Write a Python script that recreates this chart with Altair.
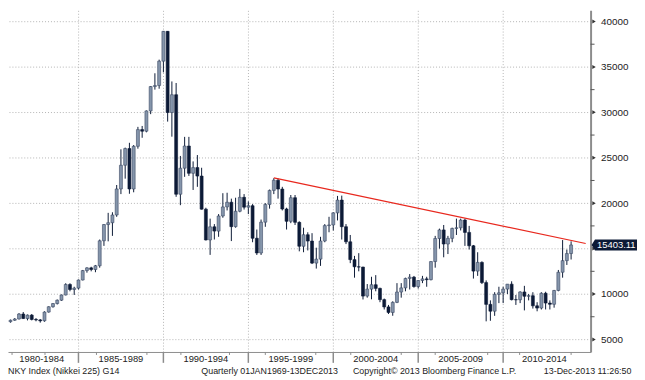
import altair as alt
import pandas as pd

# ---------------- data (quarterly OHLC, NKY Index) ----------------
first_year, first_quarter = 1980, 3

open_ = [
    6930, 6950,
    7116, 7250, 7800, 7300,
    7681, 7200, 7150, 7050,
    8016, 8600, 8950, 9320,
    9893, 11050, 10500, 10650,
    11542, 12580, 12880, 12700,
    13113, 15860, 17650, 17850,
    18700, 21566, 24176, 26011,
    21564, 26260, 28100, 27924,
    30159, 32839, 32949, 35636,
    38916, 29980, 31940, 20984,
    23849, 26292, 23290, 23916,
    22984, 19346, 15951, 17399,
    16925, 18591, 19590, 20106,
    17417, 19112, 20644, 19564,
    19723, 16140, 14517, 17913,
    19868, 21407, 22530, 21556,
    19361, 18003, 20605, 17888,
    15259, 16527, 15830, 13406,
    13842, 15837, 17530, 17605,
    18934, 20337, 17411, 15747,
    13786, 12999, 12969, 9775,
    10543, 11025, 10622, 9383,
    8579, 7973, 9083, 10219,
    10677, 11715, 11859, 10824,
    11489, 11668, 11584, 13574,
    16111, 17060, 15505, 16128,
    17226, 17288, 18138, 16786,
    15308, 12526, 13481, 11260,
    8860, 8110, 9958, 10133,
    10546, 11090, 9383, 9369,
    10229, 9755, 9816, 8700,
    8455, 10084, 9007, 8870,
    10395, 12398, 13677, 14456,
]
high_ = [
    7150, 7190,
    7350, 7900, 8019, 7750,
    7800, 7350, 7250, 8100,
    8650, 9000, 9400, 9950,
    11190, 11190, 10800, 11600,
    12650, 12950, 13000, 13200,
    16000, 17700, 18936, 19000,
    22000, 25929, 26118, 26646,
    26400, 28400, 28500, 30211,
    32900, 34300, 35800, 38957,
    38950, 33400, 33230, 25200,
    27300, 27300, 24600, 25300,
    23900, 19500, 18300, 17700,
    18800, 21100, 21148, 20500,
    20600, 21573, 21000, 20200,
    19900, 17100, 18200, 20000,
    21500, 22750, 22700, 21800,
    19500, 20900, 20900, 18000,
    17300, 16800, 16700, 15100,
    16300, 17700, 18500, 19000,
    20800, 20833, 17700, 16500,
    14200, 14500, 13000, 11100,
    11900, 12081, 10700, 9500,
    8800, 9200, 11200, 11200,
    11800, 12195, 11990, 11500,
    12000, 11900, 13600, 16400,
    17200, 17600, 16400, 17300,
    18300, 18300, 18297, 17500,
    15400, 14600, 13600, 11500,
    9300, 10200, 10800, 10800,
    11100, 11400, 9900, 10300,
    10900, 10000, 10200, 9100,
    10200, 10250, 9300, 10450,
    12650, 15942, 14900, 15800,
]
low_ = [
    6830, 6850,
    7050, 7200, 7250, 7100,
    7100, 7000, 6850, 6950,
    7950, 8500, 8850, 9250,
    9850, 10300, 9900, 10500,
    11500, 12350, 12500, 12400,
    12900, 15300, 15800, 16400,
    18500, 21000, 22700, 21036,
    21200, 26000, 27200, 27800,
    29800, 32500, 32600, 34400,
    28980, 27320, 20700, 19781,
    22900, 23000, 21456, 21800,
    19300, 15900, 14309, 16000,
    16300, 18400, 19200, 15830,
    17300, 19000, 19300, 18800,
    15700, 14300, 14300, 17400,
    19400, 21000, 20500, 19200,
    17100, 17800, 17600, 14700,
    14600, 14800, 13300, 12800,
    13100, 15700, 16800, 17000,
    18100, 16000, 15500, 13400,
    11800, 12500, 9400, 9600,
    9420, 10300, 9100, 8300,
    7800, 7607, 9000, 9600,
    10300, 10500, 10700, 10600,
    11200, 10800, 11500, 12900,
    15000, 14045, 14400, 15700,
    16500, 17000, 15300, 14900,
    11700, 12000, 11100, 6994,
    7055, 7600, 9000, 9000,
    10000, 9300, 8800, 9000,
    8200, 9300, 8400, 8100,
    8300, 8300, 8300, 8500,
    10300, 11800, 13200, 13800,
]
close_ = [
    6950, 7116,
    7250, 7800, 7300, 7681,
    7200, 7150, 7050, 8016,
    8600, 8950, 9320, 9893,
    11050, 10500, 10650, 11542,
    12580, 12880, 12700, 13113,
    15860, 17650, 17850, 18700,
    21566, 24176, 26011, 21564,
    26260, 28100, 27924, 30159,
    32839, 32949, 35636, 38916,
    29980, 31940, 20984, 23849,
    26292, 23290, 23916, 22984,
    19346, 15951, 17399, 16925,
    18591, 19590, 20106, 17417,
    19112, 20644, 19564, 19723,
    16140, 14517, 17913, 19868,
    21407, 22530, 21556, 19361,
    18003, 20605, 17888, 15259,
    16527, 15830, 13406, 13842,
    15837, 17530, 17605, 18934,
    20337, 17411, 15747, 13786,
    12999, 12969, 9775, 10543,
    11025, 10622, 9383, 8579,
    7973, 9083, 10219, 10677,
    11715, 11859, 10824, 11489,
    11668, 11584, 13574, 16111,
    17060, 15505, 16128, 17226,
    17288, 18138, 16786, 15308,
    12526, 13481, 11260, 8860,
    8110, 9958, 10133, 10546,
    11090, 9383, 9369, 10229,
    9755, 9816, 8700, 8455,
    10084, 9007, 8870, 10395,
    12398, 13677, 14456, 15403.11,
]

# trend line (decimal year, index level)
trend_t = [1996.5, 2014.86]
trend_v = [22780, 15560]

last_price = 15403.11

y_ticks = [5000, 10000, 15000, 20000, 25000, 30000, 35000, 40000]
y_hidden_label = 15000  # covered by the last-price tag
y_minor = [7500, 12500, 17500, 22500, 27500, 32500, 37500]
x_major = [1985, 1990, 1995, 2000, 2005, 2010]
x_minor = [1981.09, 1983.03, 1986.06, 1989.03, 1991.03, 1993.89, 1996.0,
           1998.97, 2001.03, 2004.0, 2006.0, 2009.09, 2010.97, 2014.0]
period_labels = ["1980-1984", "1985-1989", "1990-1994", "1995-1999",
                 "2000-2004", "2005-2009", "2010-2014"]
period_label_t = [1982.84, 1987.5, 1992.5, 1997.5, 2002.5, 2007.5, 2012.43]

footer_texts = ["NKY Index (Nikkei 225) G14", "Quarterly 01JAN1969-13DEC2013",
                "Copyright\u00a9 2013 Bloomberg Finance L.P.", "13-Dec-2013 11:26:50"]
footer_x = [0, 265, 432, 587]
footer_align = ["left", "center", "center", "center"]

# ---------------- layout ----------------
W, H = 590, 346
T0, T1 = 1981.143, 2014.857
Y0, Y1 = 3620, 41228
FONT = "Liberation Sans"
DARK = "#0c1a36"
LIGHT = "#8595ab"
GRID = "#b4b4b4"
AXIS = "#8c8c8c"
TXT = "#222222"

rows = []
yr, q = first_year, first_quarter
for o, h, l, c in zip(open_, high_, low_, close_):
    rows.append({"t": yr + q * 0.25, "open": o, "high": h, "low": l, "close": c,
                 "dir": "up" if c >= o else "down"})
    q += 1
    if q > 4:
        q = 1
        yr += 1
df = pd.DataFrame(rows)

xs = alt.Scale(domain=[T0, T1], nice=False, zero=False)
ys = alt.Scale(domain=[Y0, Y1], nice=False, zero=False)

XAX = alt.Axis(values=x_major, grid=True, gridDash=[1, 2], gridColor=GRID,
               labels=False, ticks=False, domain=True, domainColor=AXIS, title=None)
YAX = alt.Axis(orient="right", values=y_ticks, format="d", grid=True, gridDash=[1, 2],
               gridColor=GRID, ticks=False, tickSize=0, labelPadding=10,
               labelExpr=f"datum.value == {y_hidden_label} ? '' : datum.label",
               labelFont=FONT, labelFontSize=10, labelColor=TXT, domain=True,
               domainColor=AXIS, domainWidth=2, title=None)


def X(field):
    return alt.X(field, scale=xs, axis=XAX)


def Y(field):
    return alt.Y(field, scale=ys, axis=YAX)


wicks = alt.Chart(df).mark_rule(color=DARK, strokeWidth=1, clip=True).encode(
    x=X("t:Q"), y=Y("low:Q"), y2="high:Q",
)

bodies = alt.Chart(df).mark_bar(size=3, strokeWidth=0.6, clip=True).encode(
    x=X("t:Q"), y=Y("open:Q"), y2="close:Q",
    color=alt.Color("dir:N", scale=alt.Scale(domain=["up", "down"], range=[LIGHT, DARK]),
                    legend=None),
    stroke=alt.Stroke("dir:N", scale=alt.Scale(domain=["up", "down"], range=["#3a4763", DARK]),
                      legend=None),
)

trend_df = pd.DataFrame({"t": [trend_t[0]], "t2": [trend_t[1]],
                         "v": [trend_v[0]], "v2": [trend_v[1]]})
trend = alt.Chart(trend_df).mark_rule(color="#e8281e", strokeWidth=1.2).encode(
    x=X("t:Q"), x2="t2:Q", y=Y("v:Q"), y2="v2:Q",
)

arrows = alt.Chart(pd.DataFrame({"v": y_ticks})).mark_point(
    shape="triangle-right", filled=True, size=16, color="#333333", opacity=1).encode(
    x=alt.value(W + 3.5), y=Y("v:Q"),
)

minor_y = alt.Chart(pd.DataFrame({"v": y_minor})).mark_rule(color="#555555").encode(
    x=alt.value(W), x2=alt.value(W + 4), y=Y("v:Q"),
)

xmaj = alt.Chart(pd.DataFrame({"t": x_major})).mark_rule(color=AXIS, strokeWidth=1.5).encode(
    x=X("t:Q"), y=alt.value(H), y2=alt.value(H + 11),
)
xmin = alt.Chart(pd.DataFrame({"t": x_minor})).mark_rule(color=AXIS, strokeWidth=1).encode(
    x=X("t:Q"), y=alt.value(H), y2=alt.value(H + 3),
)
xlab = alt.Chart(pd.DataFrame({"t": period_label_t, "lab": period_labels})).mark_text(
    font=FONT, fontSize=9.5, color=TXT, baseline="middle", align="center").encode(
    x=X("t:Q"), y=alt.value(H + 7.5), text="lab:N",
)

footer_layers = []
for xv, txt, al in zip(footer_x, footer_texts, footer_align):
    footer_layers.append(
        alt.Chart(pd.DataFrame({"txt": [txt]})).mark_text(
            font=FONT, fontSize=9, color=TXT, baseline="middle", align=al).encode(
            x=alt.value(xv), y=alt.value(H + 19.5), text="txt:N")
    )

box = alt.Chart(pd.DataFrame({"v": [last_price]})).mark_point(
    shape="M-1,0L-0.85,-0.24L1,-0.24L1,0.24L-0.85,0.24Z", filled=True, size=2116,
    color=DARK, opacity=1, strokeWidth=0).encode(
    x=alt.value(W + 24), y=Y("v:Q"),
)
box_text = alt.Chart(pd.DataFrame({"v": [last_price], "lab": ["15403.11"]})).mark_text(
    font=FONT, fontSize=9.5, color="white", align="center", baseline="middle", dy=0.5).encode(
    x=alt.value(W + 26), y=Y("v:Q"), text="lab:N",
)

chart = alt.layer(
    wicks, bodies, trend, arrows, minor_y, xmaj, xmin, xlab,
    *footer_layers, box, box_text,
).properties(
    width=W, height=H,
    autosize=alt.AutoSizeParams(type="none"),
    padding={"left": 0, "top": 0, "right": 47, "bottom": 26},
    background="white",
).configure_view(stroke=None)

chart.save("out.html", embed_options={"renderer": "svg", "actions": False})
